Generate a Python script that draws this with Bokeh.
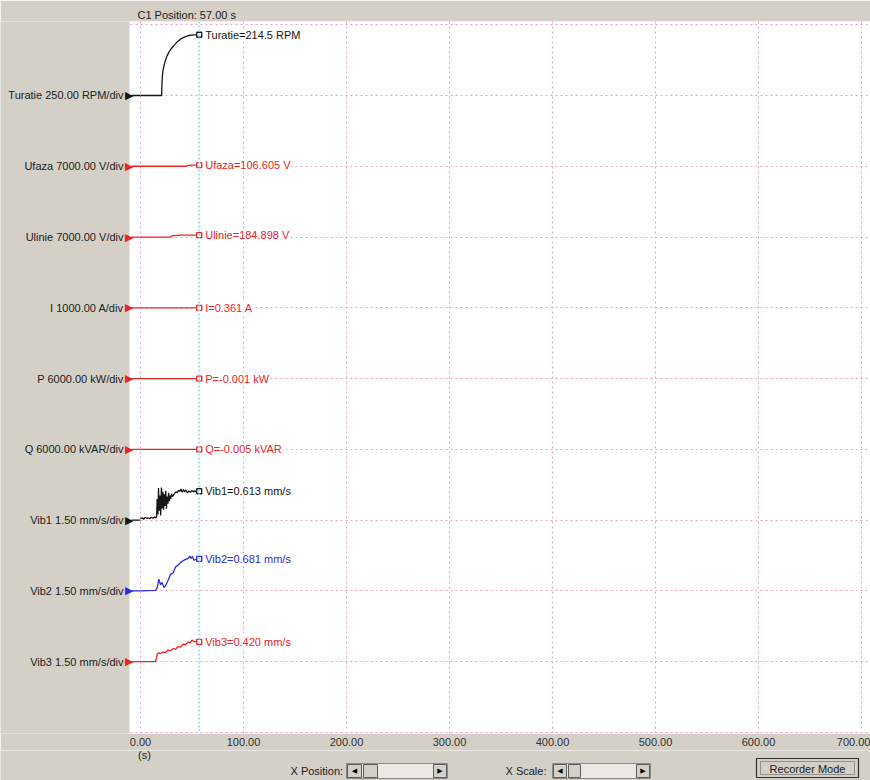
from bokeh.plotting import figure
from bokeh.layouts import column
from bokeh.models import (ColumnDataSource, FixedTicker, NumeralTickFormatter, LabelSet, Span,
                          Range1d, BoxAnnotation)
from bokeh.core.properties import value, field
from bokeh.embed import file_html
from bokeh.resources import INLINE

# ---------------- data ----------------
channel_names = ["Turatie", "Ufaza", "Ulinie", "I", "P", "Q", "Vib1", "Vib2", "Vib3"]
channel_scales = [250.0, 7000.0, 7000.0, 1000.0, 6000.0, 6000.0, 1.5, 1.5, 1.5]
channel_units = ["RPM", "V", "V", "A", "kW", "kVAR", "mm/s", "mm/s", "mm/s"]
channel_baselines = [9, 8, 7, 6, 5, 4, 3, 2, 1]          # grid division of each channel's zero
channel_cursor_values = [214.5, 106.605, 184.898, 0.361, -0.001, -0.005, 0.613, 0.681, 0.420]
channel_cursor_text = ["214.5", "106.605", "184.898", "0.361", "-0.001", "-0.005",
                       "0.613", "0.681", "0.420"]
BLACK, RED, BLUE = "#161616", "#ec2424", "#2c2cdc"
channel_colors = [BLACK, RED, RED, RED, RED, RED, BLACK, BLUE, RED]

cursor_time = 57.0
x_ticks = [0, 100, 200, 300, 400, 500, 600, 700]
y_divisions = [0, 1, 2, 3, 4, 5, 6, 7, 8, 9, 10]

turatie_t = [0, 20.5, 20.7, 21.0, 21.4, 21.8, 22.8, 24.2, 25.8, 27.6, 30.0, 32.6, 35.8,
             39.3, 42.6, 46.0, 49.3, 52.7, 55.0, 57.0]
turatie_v = [0, 0, 25, 55, 75, 88, 105, 124, 140, 153, 166, 177, 190,
             200, 206, 211, 213, 214.3, 214.5, 214.5]

ufaza_t = [0, 43.5, 46.0, 49.0, 57.0]
ufaza_v = [0, 0, 70, 106.6, 106.605]

ulinie_t = [0, 29.0, 31.0, 40.0, 57.0]
ulinie_v = [0, 0, 140, 180, 184.898]

i_t = [0, 57.0]
i_v = [0.36, 0.361]

p_t = [0, 57.0]
p_v = [0.0, -0.001]

q_t = [0, 57.0]
q_v = [0.0, -0.005]

vib1_t = [0, 1.5, 3, 4.5, 6, 7.5, 9, 10.5, 12, 13.5, 14.8, 15.6, 16.2, 16.9, 17.5, 18.2,
          18.9, 19.6, 20.3, 21.0, 21.7, 22.4, 23.1, 23.8, 24.5, 25.2, 25.9, 26.6, 27.3,
          28.0, 28.7, 29.4, 30.1, 31.0, 32.0, 33.2, 34.4, 35.6, 36.8, 38, 39.2, 40.4, 41.6,
          42.8, 44, 45.5, 47, 48.5, 50, 51.5, 53, 54.5, 56, 57]
vib1_v = [0.03, 0.05, 0.02, 0.06, 0.04, 0.05, 0.03, 0.06, 0.04, 0.07, 0.05, 0.06, 0.45,
          0.12, 0.68, 0.20, 0.52, 0.10, 0.69, 0.25, 0.60, 0.22, 0.55, 0.30, 0.62, 0.24,
          0.50, 0.35, 0.58, 0.40, 0.52, 0.45, 0.56, 0.50, 0.53, 0.57, 0.60, 0.58, 0.63,
          0.61, 0.66, 0.59, 0.65, 0.60, 0.64, 0.58, 0.62, 0.59, 0.63, 0.60, 0.62, 0.59,
          0.61, 0.613]

vib2_t = [0, 14.6, 16.2, 17.8, 19.4, 21.0, 22.7, 24.3, 26.5, 29.1, 31.7, 34.0, 36.2,
          38.8, 41.4, 43.7, 46.3, 47.9, 49.2, 50.5, 51.8, 54.0, 57.0]
vib2_v = [0, 0.01, 0.07, 0.25, 0.13, 0.18, 0.07, 0.11, 0.21, 0.35, 0.38, 0.51, 0.54,
          0.60, 0.64, 0.67, 0.69, 0.74, 0.69, 0.73, 0.65, 0.67, 0.681]

vib3_t = [0, 14.6, 15.5, 16.2, 17.8, 19.4, 22.0, 24.3, 26.5, 29.1, 31.7, 34.0, 36.2,
          38.8, 41.4, 43.7, 46.3, 48.2, 50.1, 52.0, 54.5, 57.0]
vib3_v = [0, 0, 0.08, 0.16, 0.19, 0.17, 0.21, 0.19, 0.25, 0.23, 0.28, 0.26, 0.32,
          0.31, 0.37, 0.36, 0.42, 0.40, 0.46, 0.42, 0.43, 0.420]

series_t = [turatie_t, ufaza_t, ulinie_t, i_t, p_t, q_t, vib1_t, vib2_t, vib3_t]
series_v = [turatie_v, ufaza_v, ulinie_v, i_v, p_v, q_v, vib1_v, vib2_v, vib3_v]

# ---------------- layout helpers (page pixel -> data) ----------------
PX_PER_S = 1.03
PX_PER_DIV = 70.78
X0_PAGE = 140.0      # page x of t = 0
Y0_PAGE = 732.0      # page y of division 0
def dx(px):
    return (px - X0_PAGE) / PX_PER_S
def dy(py):
    return (Y0_PAGE - py) / PX_PER_DIV

W = 870
H_MAIN, H_CTRL = 750, 30
BT, BB = 21, 17
PLOT_LEFT = 129          # page x where the white plotting area starts
GRAY = "#d4d0c8"
FONT = "Liberation Sans"

p = figure(width=W, height=H_MAIN, output_backend="svg", toolbar_location=None,
           x_range=Range1d(dx(0), dx(W)),
           y_range=Range1d(dy(H_MAIN - BB), dy(BT)),
           min_border_left=0, min_border_right=0, min_border_top=BT, min_border_bottom=BB,
           y_axis_location=None,
           background_fill_color="white", border_fill_color=GRAY, outline_line_color=None,
           title=f"C1 Position: {cursor_time:.2f} s")

p.title.align = "left"
p.title.offset = 137
p.title.standoff = 2
p.title.text_font = FONT
p.title.text_font_size = "11px"
p.title.text_font_style = "normal"
p.title.text_color = "#202020"

# x axis
p.xaxis.ticker = FixedTicker(ticks=x_ticks)
p.xaxis.formatter = NumeralTickFormatter(format="0.00")
p.xaxis.axis_line_color = None
p.xaxis.major_tick_line_color = None
p.xaxis.minor_tick_line_color = None
p.xaxis.major_tick_out = 0
p.xaxis.major_tick_in = 0
p.xaxis.major_label_standoff = 4
p.xaxis.major_label_text_font = FONT
p.xaxis.major_label_text_font_size = "11px"
p.xaxis.major_label_text_color = "#303030"

# grids
p.ygrid.ticker = FixedTicker(ticks=y_divisions)
for g in (p.xgrid, p.ygrid):
    g.grid_line_color = "#e8a2c6"
    g.grid_line_dash = "2 3"
    g.grid_line_width = 1

# cursor
p.add_layout(Span(location=cursor_time, dimension="height", line_color="#a4e2ee",
                  line_dash="2 2", line_width=2))

# channel stubs from marker to t=0
p.segment(x0=[dx(131)] * len(channel_baselines), x1=[0] * len(channel_baselines),
          y0=channel_baselines, y1=channel_baselines, line_color=channel_colors, line_width=1.3)

# curves
for t, v, s, b, c in zip(series_t, series_v, channel_scales, channel_baselines, channel_colors):
    assert len(t) == len(v)
    p.line(t, [b + vv / s for vv in v], line_color=c, line_width=1.3)

# cursor markers and readouts
cur_y = [b + v / s for b, v, s in zip(channel_baselines, channel_cursor_values, channel_scales)]
cur_src = ColumnDataSource(dict(
    x=[cursor_time] * len(channel_names), y=cur_y, color=channel_colors,
    text=[f"{n}={v} {u}" for n, v, u in zip(channel_names, channel_cursor_text, channel_units)]))
p.scatter("x", "y", source=cur_src, marker="square", size=5, fill_color="white",
          line_color="color", line_width=1.3)
p.add_layout(LabelSet(x="x", y="y", text="text", source=cur_src, x_offset=6,
                      text_baseline="middle", text_align="left", text_color=field("color"),
                      text_font=value(FONT), text_font_size="11px",
                      background_fill_color="white"))

# gray label column at the left
p.add_layout(BoxAnnotation(left=dx(-50), right=dx(PLOT_LEFT), bottom=dy(800), top=dy(-50),
                           fill_color=GRAY, fill_alpha=1.0, line_color=None))

# channel labels (one per channel zero line)
lab_src = ColumnDataSource(dict(
    x=[dx(123)] * len(channel_names), y=channel_baselines,
    text=[f"{n} {s:.2f} {u}/div" for n, s, u in zip(channel_names, channel_scales, channel_units)]))
p.add_layout(LabelSet(x="x", y="y", text="text", source=lab_src, text_align="right",
                      text_baseline="middle", text_color="#202020",
                      text_font=value(FONT), text_font_size="11px"))

# channel triangles at left
tri_src = ColumnDataSource(dict(x=[dx(133)] * len(channel_names), y=channel_baselines,
                                color=channel_colors, text=["\u25B6"] * len(channel_names)))
p.add_layout(LabelSet(x="x", y="y", text="text", source=tri_src, text_align="right",
                      text_baseline="middle", text_color=field("color"),
                      text_font=value("DejaVu Sans"), text_font_size="11px"))

# ---------------- bottom control strip (coordinates = page pixels) ----------------
cq = figure(width=W, height=H_CTRL, output_backend="svg", toolbar_location=None,
            x_range=Range1d(0, W), y_range=Range1d(H_MAIN + H_CTRL, H_MAIN),
            min_border=0, x_axis_location=None, y_axis_location=None,
            background_fill_color=GRAY, border_fill_color=GRAY, outline_line_color=None)
cq.grid.visible = False

ctrl_text_x = [144, 290, 505]
ctrl_text_y = [754, 770, 770]
ctrl_text = ["(s)", "X Position:", "X Scale:"]
cq.text(x=ctrl_text_x, y=ctrl_text_y, text=ctrl_text, text_font=value(FONT),
        text_font_size="11px", text_color="#202020", text_baseline="middle",
        text_align=["center", "left", "left"])

# scrollbar tracks
cq.quad(left=[346, 552], right=[447, 650], top=[763, 763], bottom=[778, 778],
        fill_color="#ebe9e4", line_color="#8a8a8a", line_width=1)
# buttons and thumbs
cq.quad(left=[347, 433, 363, 553, 636, 568], right=[361, 446, 377, 566, 649, 580],
        top=[764] * 6, bottom=[777] * 6, fill_color=GRAY, line_color="#5c5c5c", line_width=1)
cq.text(x=[354, 439.5, 559.5, 642.5], y=[770.5] * 4,
        text=["\u25C0", "\u25B6", "\u25C0", "\u25B6"], text_font=value("DejaVu Sans"),
        text_font_size="7px", text_color="black", text_align="center", text_baseline="middle")

# Recorder Mode button
cq.quad(left=[756], right=[858], top=[758], bottom=[777], fill_color=GRAY,
        line_color="#303030", line_width=1.2)
cq.quad(left=[760], right=[854], top=[761], bottom=[774], fill_alpha=0,
        line_color="#505050", line_width=1, line_dash="1 1")
cq.text(x=[807], y=[768], text=["Recorder Mode"], text_font=value(FONT),
        text_font_size="11px", text_color="#202020", text_align="center",
        text_baseline="middle")

root = column(p, cq, spacing=0)
open("out.html", "w").write(file_html(root, INLINE, title="Recorder"))
